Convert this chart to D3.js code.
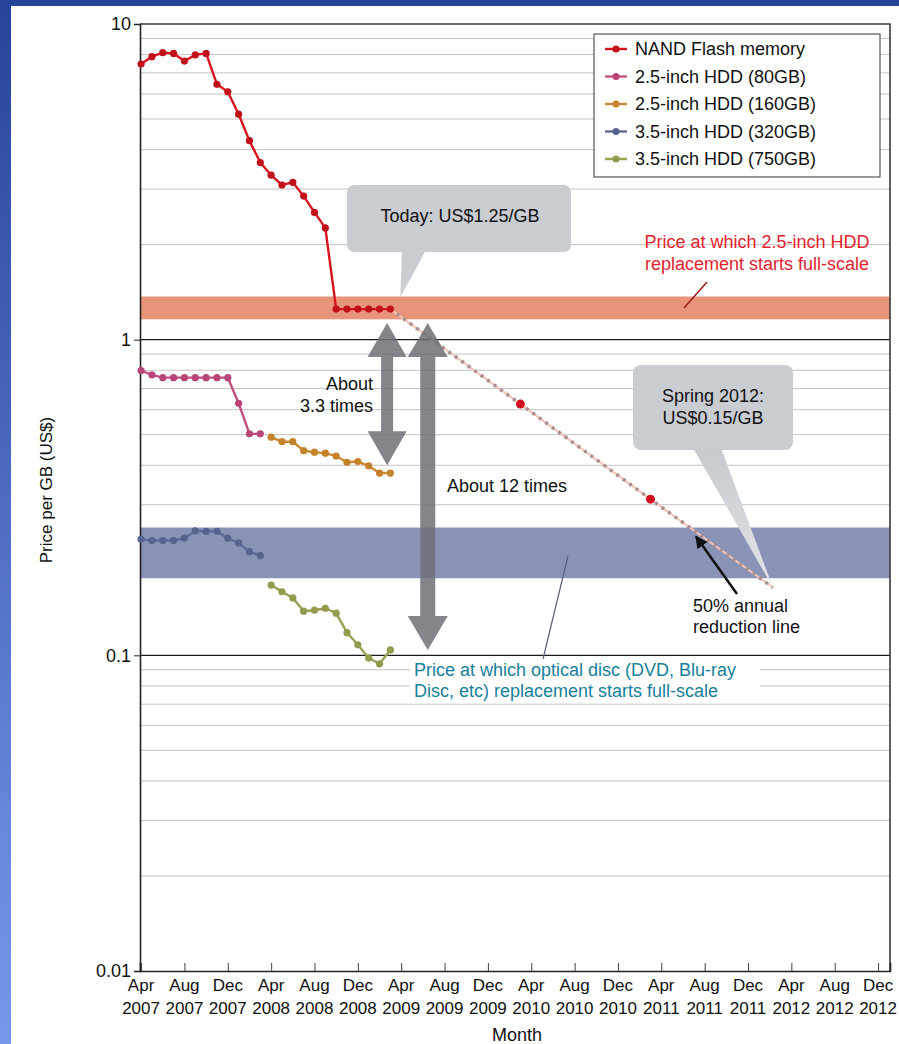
<!DOCTYPE html>
<html><head><meta charset="utf-8">
<script src="https://cdn.jsdelivr.net/npm/d3@7"></script>
<style>html,body{margin:0;padding:0;background:#fff;} body{width:899px;height:1044px;overflow:hidden;} text{font-family:"Liberation Sans",Arial,Helvetica,sans-serif;}</style>
</head><body><svg id="chart" width="899" height="1044"></svg>
<script>
// ---------------- DATA ----------------
// month index: 0 = Apr 2007
const nandMonths = d3.range(0, 24);
const nandFlash = [7.47, 7.88, 8.11, 8.07, 7.63, 7.98, 8.07, 6.44, 6.10, 5.18, 4.27, 3.64,
                   3.32, 3.09, 3.15, 2.85, 2.53, 2.26, 1.25, 1.25, 1.25, 1.25, 1.25, 1.25];
const hdd80Months = d3.range(0, 12);
const hdd80 = [0.798, 0.774, 0.758, 0.758, 0.758, 0.758, 0.758, 0.758, 0.758, 0.629, 0.503, 0.503];
const hdd160Months = d3.range(12, 24);
const hdd160 = [0.491, 0.475, 0.475, 0.445, 0.440, 0.437, 0.428, 0.409, 0.411, 0.398, 0.378, 0.378];
const hdd320Months = d3.range(0, 12);
const hdd320 = [0.233, 0.231, 0.231, 0.231, 0.235, 0.248, 0.247, 0.247, 0.235, 0.227, 0.213, 0.207];
const hdd750Months = d3.range(12, 24);
const hdd750 = [0.167, 0.159, 0.152, 0.138, 0.139, 0.141, 0.136, 0.118, 0.108, 0.098, 0.094, 0.104];

// 50% annual reduction projection
const projMonths = [23, 35, 47, 58.3];
const projValues = [1.25, 0.625, 0.3125, 0.164];
const projDotIdx = [1, 2];

// target price bands
const hddBand = [1.16, 1.37];
const opticalBand = [0.1755, 0.254];

// ratio arrows (month position, top value, bottom value)
const arrowMonths = [22.7, 26.45];
const arrowTops = [1.13, 1.13];
const arrowBottoms = [0.40, 0.104];

const seriesNames = ["NAND Flash memory", "2.5-inch HDD (80GB)", "2.5-inch HDD (160GB)", "3.5-inch HDD (320GB)", "3.5-inch HDD (750GB)"];
const seriesColors = ["#d8141f", "#c2507f", "#c98a32", "#5d6b98", "#9ca055"];
const seriesDotColors = ["#c0101a", "#b8457a", "#c4832a", "#56648f", "#959a4c"];

const tickMonths = d3.range(0, 69, 4);
const tickMonthNames = ["Apr","Aug","Dec","Apr","Aug","Dec","Apr","Aug","Dec","Apr","Aug","Dec","Apr","Aug","Dec","Apr","Aug","Dec"];
const tickYears = ["2007","2007","2007","2008","2008","2008","2009","2009","2009","2010","2010","2010","2011","2011","2011","2012","2012","2012"];
const yTickValues = [0.01, 0.1, 1, 10];
const yTickLabels = ["0.01", "0.1", "1", "10"];

// ---------------- LAYOUT ----------------
const W = 899, H = 1044;
const P = {left: 140, right: 890, top: 24, bottom: 971};
const svg = d3.select("#chart");
const defs = svg.append("defs");

const bg = defs.append("linearGradient").attr("id","bgGrad").attr("x1",0).attr("y1",0).attr("x2",0).attr("y2",1);
bg.append("stop").attr("offset","0%").attr("stop-color","#27449b");
bg.append("stop").attr("offset","100%").attr("stop-color","#7698eb");
svg.append("rect").attr("width",W).attr("height",H).attr("fill","url(#bgGrad)");
svg.append("rect").attr("x",11).attr("y",6).attr("width",W-11).attr("height",H-6).attr("fill","#fff");

const x = d3.scaleLinear().domain([-0.1, 69.1]).range([P.left, P.right]);
const y = d3.scaleLog().domain([0.01, 10]).range([P.bottom, P.top]);

// gridlines
const minor = y.ticks().filter(v => ![0.01,0.1,1,10].some(m => Math.abs(m - v) < 1e-9));
svg.append("g").selectAll("line").data(minor).join("line")
  .attr("x1", P.left).attr("x2", P.right)
  .attr("y1", d => y(d)).attr("y2", d => y(d))
  .attr("stroke", "#c4c4c4").attr("stroke-width", 1);

// bands
svg.append("rect").attr("x", P.left).attr("width", P.right - P.left)
  .attr("y", y(hddBand[1])).attr("height", y(hddBand[0]) - y(hddBand[1]))
  .attr("fill", "#e8947b");
svg.append("rect").attr("x", P.left).attr("width", P.right - P.left)
  .attr("y", y(opticalBand[1])).attr("height", y(opticalBand[0]) - y(opticalBand[1]))
  .attr("fill", "#8893b6");

// major lines
svg.append("g").selectAll("line").data([0.1, 1]).join("line")
  .attr("x1", P.left).attr("x2", P.right)
  .attr("y1", d => y(d)).attr("y2", d => y(d))
  .attr("stroke", "#1a1a1a").attr("stroke-width", 1.4);

// plot frame
svg.append("path").attr("d", `M${P.left},${P.top}H${P.right}V${P.bottom}`)
  .attr("fill","none").attr("stroke","#3a3a3a").attr("stroke-width",1.6);

// axes
const yAxis = d3.axisLeft(y).tickValues(yTickValues).tickFormat((d,i) => yTickLabels[i]).tickSize(6).tickPadding(3);
const gy = svg.append("g").attr("transform", `translate(${P.left},0)`).call(yAxis);
gy.select(".domain").attr("stroke","#222").attr("stroke-width",1.6);
gy.selectAll(".tick line").attr("stroke","#222");
gy.selectAll(".tick text").attr("font-size", 18).attr("fill","#111").attr("font-family","Liberation Sans, Arial, sans-serif");

const xAxis = d3.axisBottom(x).tickValues(tickMonths).tickSize(-8).tickFormat("");
const gx = svg.append("g").attr("transform", `translate(0,${P.bottom})`).call(xAxis);
gx.select(".domain").attr("stroke","#222").attr("stroke-width",1.6);
gx.selectAll(".tick line").attr("stroke","#444");
const xl = svg.append("g");
tickMonths.forEach((m, i) => {
  const t = xl.append("text").attr("x", x(m)).attr("text-anchor","middle").attr("font-size",17).attr("fill","#111");
  t.append("tspan").attr("x", x(m)).attr("y", P.bottom + 20).text(tickMonthNames[i]);
  t.append("tspan").attr("x", x(m)).attr("y", P.bottom + 43).text(tickYears[i]);
});
svg.append("text").attr("x", 517).attr("y", 1041).attr("text-anchor","middle").attr("font-size",18).attr("fill","#111").text("Month");
svg.append("text").attr("transform", `translate(52,490) rotate(-90)`).attr("text-anchor","middle")
  .attr("font-size",17).attr("fill","#111").text("Price per GB (US$)");

// projection line
const projPts = projMonths.map((m,i) => [x(m), y(projValues[i])]);
svg.append("path").attr("d", d3.line()(projPts)).attr("fill","none").attr("stroke","#f3c3b8").attr("stroke-width",2);
svg.append("path").attr("d", d3.line()(projPts)).attr("fill","none").attr("stroke","#a89090").attr("stroke-width",3.5).attr("stroke-dasharray","3,5");
svg.append("g").selectAll("circle").data(projDotIdx).join("circle")
  .attr("cx", i => x(projMonths[i])).attr("cy", i => y(projValues[i])).attr("r", 4.5).attr("fill", "#d01020");

// series
const seriesData = [
  [nandMonths, nandFlash], [hdd80Months, hdd80], [hdd160Months, hdd160], [hdd320Months, hdd320], [hdd750Months, hdd750]
];
const line = d3.line().x(d => x(d[0])).y(d => y(d[1]));
seriesData.forEach(([ms, vs], si) => {
  const pts = ms.map((m,i) => [m, vs[i]]);
  const g = svg.append("g");
  g.append("path").attr("d", line(pts)).attr("fill","none").attr("stroke", seriesColors[si]).attr("stroke-width", 2.4);
  g.selectAll("circle").data(pts).join("circle")
    .attr("cx", d => x(d[0])).attr("cy", d => y(d[1])).attr("r", 3.6).attr("fill", seriesDotColors[si]);
});

// double arrows
function dblArrow(cx, yt, yb, sw, hw, hh) {
  return `M${cx},${yt}L${cx+hw/2},${yt+hh}L${cx+sw/2},${yt+hh}L${cx+sw/2},${yb-hh}L${cx+hw/2},${yb-hh}L${cx},${yb}` +
         `L${cx-hw/2},${yb-hh}L${cx-sw/2},${yb-hh}L${cx-sw/2},${yt+hh}L${cx-hw/2},${yt+hh}Z`;
}
const arrowShaft = [12, 15], arrowHead = [39, 40];
arrowMonths.forEach((m,i) => {
  svg.append("path").attr("d", dblArrow(x(m), y(arrowTops[i]), y(arrowBottoms[i]), arrowShaft[i], arrowHead[i], 34))
    .attr("fill", "#6e7077").attr("fill-opacity", 0.85);
});
svg.append("text").attr("x", 373).attr("y", 390).attr("text-anchor","end").attr("font-size",18).attr("fill","#111").text("About");
svg.append("text").attr("x", 373).attr("y", 412).attr("text-anchor","end").attr("font-size",18).attr("fill","#111").text("3.3 times");
svg.append("text").attr("x", 447).attr("y", 492).attr("font-size",18).attr("fill","#111").text("About 12 times");

// callout 1: Today
const c1 = svg.append("g");
c1.append("rect").attr("x",347).attr("y",185).attr("width",224).attr("height",67).attr("rx",7).attr("fill","#c9ccd1");
c1.append("path").attr("d", `M402,250L426,250L${x(23)+10},${y(1.25)-12}Z`).attr("fill","#c9ccd1");
c1.append("text").attr("x",460).attr("y",222).attr("text-anchor","middle").attr("font-size",18).attr("fill","#111").text("Today: US$1.25/GB");

// callout 2: Spring 2012
const tg = defs.append("linearGradient").attr("id","tailGrad").attr("x1",0).attr("y1",0).attr("x2",0).attr("y2",1);
tg.append("stop").attr("offset","0%").attr("stop-color","#c6c9ce");
tg.append("stop").attr("offset","100%").attr("stop-color","#e2e4e8");
const c2 = svg.append("g");
c2.append("path").attr("d", `M693,448L721,448L${x(58.3)},${y(0.164)}Z`).attr("fill","url(#tailGrad)");
c2.append("rect").attr("x",633).attr("y",365).attr("width",160).attr("height",85).attr("rx",8).attr("fill","#c9ccd1");
c2.append("text").attr("x",713).attr("y",402).attr("text-anchor","middle").attr("font-size",18).attr("fill","#111").text("Spring 2012:");
c2.append("text").attr("x",713).attr("y",424).attr("text-anchor","middle").attr("font-size",18).attr("fill","#111").text("US$0.15/GB");

// black arrow to reduction line
defs.append("marker").attr("id","ah").attr("viewBox","0 0 10 10").attr("refX",9).attr("refY",5)
  .attr("markerWidth",5).attr("markerHeight",5).attr("orient","auto")
  .append("path").attr("d","M0,0L10,5L0,10Z").attr("fill","#111");
svg.append("line").attr("x1",737).attr("y1",594).attr("x2",x(51.2)).attr("y2",y(0.238))
  .attr("stroke","#111").attr("stroke-width",2.5).attr("marker-end","url(#ah)");
svg.append("text").attr("x",693).attr("y",612).attr("font-size",18).attr("fill","#111").text("50% annual");
svg.append("text").attr("x",693).attr("y",633).attr("font-size",18).attr("fill","#111").text("reduction line");

// HDD band label
svg.append("line").attr("x1",707).attr("y1",282).attr("x2",684).attr("y2",308).attr("stroke","#9a1c1c").attr("stroke-width",1.5);
svg.append("text").attr("x",757).attr("y",248).attr("text-anchor","middle").attr("font-size",18).attr("fill","#e2232e").text("Price at which 2.5-inch HDD");
svg.append("text").attr("x",757).attr("y",270).attr("text-anchor","middle").attr("font-size",18).attr("fill","#e2232e").text("replacement starts full-scale");

// Optical band label
svg.append("rect").attr("x",410).attr("y",661).attr("width",350).attr("height",41).attr("fill","#fff");
svg.append("line").attr("x1",543).attr("y1",659).attr("x2",568).attr("y2",556).attr("stroke","#56607e").attr("stroke-width",1.2);
svg.append("text").attr("x",414).attr("y",676).attr("font-size",18).attr("fill","#17809b").text("Price at which optical disc (DVD, Blu-ray");
svg.append("text").attr("x",414).attr("y",697).attr("font-size",18).attr("fill","#17809b").text("Disc, etc) replacement starts full-scale");

// legend
const lg = svg.append("g");
lg.append("rect").attr("x",594).attr("y",34).attr("width",286).attr("height",143).attr("fill","#fff").attr("stroke","#555").attr("stroke-width",1.2);
seriesNames.forEach((n,i) => {
  const by = 55 + i*27.5;
  lg.append("line").attr("x1",605).attr("x2",627).attr("y1",by-6).attr("y2",by-6).attr("stroke",seriesColors[i]).attr("stroke-width",2.4);
  lg.append("circle").attr("cx",616).attr("cy",by-6).attr("r",3.6).attr("fill",seriesDotColors[i]);
  lg.append("text").attr("x",635).attr("y",by).attr("font-size",18).attr("fill","#111").text(n);
});
</script>
</body></html>
